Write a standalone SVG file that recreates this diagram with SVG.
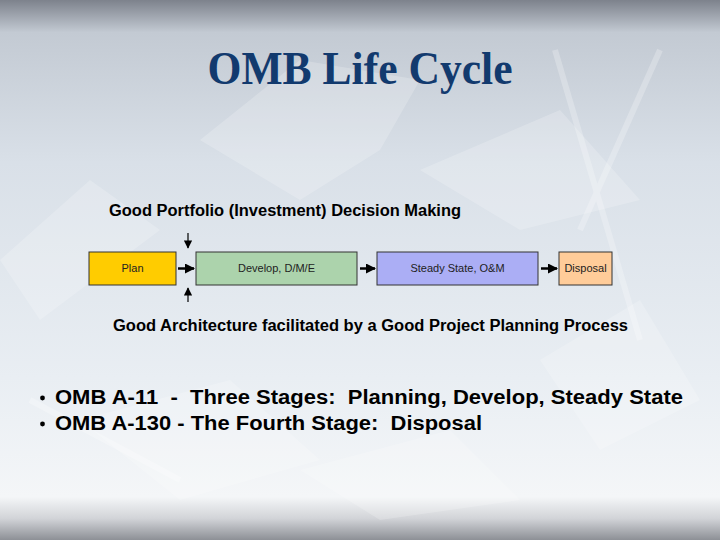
<svg xmlns="http://www.w3.org/2000/svg" width="720" height="540" viewBox="0 0 720 540">
  <defs>
    <linearGradient id="bg" x1="0" y1="0" x2="0" y2="1">
      <stop offset="0" stop-color="#7d828c"/>
      <stop offset="0.06" stop-color="#c3cad3"/>
      <stop offset="0.3" stop-color="#d9e0e8"/>
      <stop offset="0.7" stop-color="#e9eef3"/>
      <stop offset="0.92" stop-color="#f4f6f8"/>
      <stop offset="0.96" stop-color="#d2d4d8"/>
      <stop offset="1" stop-color="#8d9096"/>
    </linearGradient>
    <marker id="ah" viewBox="0 0 10 10" refX="9" refY="5" markerWidth="4" markerHeight="4" orient="auto" markerUnits="strokeWidth">
      <path d="M0,0 L10,5 L0,10 z" fill="#000"/>
    </marker>
    <marker id="ahs" viewBox="0 0 10 10" refX="9" refY="5" markerWidth="7" markerHeight="7" orient="auto" markerUnits="strokeWidth">
      <path d="M0,0 L10,5 L0,10 z" fill="#000"/>
    </marker>
  </defs>
  <style>
    .title { font-family: "Liberation Serif", "Times New Roman", serif; font-weight: bold; font-size: 47px; fill: #123a6e; }
    .head { font-family: "Liberation Sans", Arial, sans-serif; font-weight: bold; font-size: 16px; fill: #000; }
    .lbl { font-family: "Liberation Sans", Arial, sans-serif; font-size: 11px; fill: #222; }
    .bul { font-family: "Liberation Sans", Arial, sans-serif; font-weight: bold; font-size: 20px; fill: #000; white-space: pre; }
    .box { stroke: #333; stroke-width: 1; }
    .conn { stroke: #000; fill: none; }
  </style>

  <rect x="0" y="0" width="720" height="540" fill="url(#bg)"/>
  <g fill="#ffffff" opacity="0.2">
    <polygon points="200,140 300,60 420,80 380,150 300,200"/>
    <polygon points="0,260 90,180 160,230 40,320"/>
    <polygon points="420,170 560,110 640,200 520,230"/>
    <polygon points="540,360 640,300 700,400 600,450"/>
    <polygon points="80,420 230,380 320,460 180,500"/>
    <polygon points="300,470 450,430 520,500 380,520"/>
  </g>
  <g stroke="#ffffff" stroke-width="6" opacity="0.25" fill="none">
    <line x1="555" y1="50" x2="640" y2="340"/>
    <line x1="660" y1="50" x2="580" y2="230"/>
    <line x1="30" y1="400" x2="180" y2="480"/>
  </g>

  <g id="title">
    <text class="title" x="360" y="84" text-anchor="middle" textLength="305" lengthAdjust="spacingAndGlyphs">OMB Life Cycle</text>
  </g>

  <g id="top-label">
    <text class="head" x="109" y="216" textLength="352" lengthAdjust="spacingAndGlyphs">Good Portfolio (Investment) Decision Making</text>
  </g>

  <g id="plan">
    <rect class="box" x="89" y="252" width="87" height="33" fill="#ffcc00"/>
    <text class="lbl" x="132.5" y="272" text-anchor="middle">Plan</text>
  </g>
  <g id="develop">
    <rect class="box" x="196" y="252" width="161" height="33" fill="#acd3ac"/>
    <text class="lbl" x="276.5" y="272" text-anchor="middle">Develop, D/M/E</text>
  </g>
  <g id="steady">
    <rect class="box" x="377" y="252" width="161" height="33" fill="#abaef5"/>
    <text class="lbl" x="457.5" y="272" text-anchor="middle">Steady State, O&amp;M</text>
  </g>
  <g id="disposal">
    <rect class="box" x="559" y="252" width="53" height="33" fill="#ffcc99"/>
    <text class="lbl" x="585.5" y="272" text-anchor="middle">Disposal</text>
  </g>

  <g id="connectors">
    <line class="conn" x1="178" y1="268.5" x2="194" y2="268.5" stroke-width="2.5" marker-end="url(#ah)"/>
    <line class="conn" x1="360" y1="268.5" x2="375" y2="268.5" stroke-width="2.5" marker-end="url(#ah)"/>
    <line class="conn" x1="541" y1="268.5" x2="557" y2="268.5" stroke-width="2.5" marker-end="url(#ah)"/>
    <line class="conn" x1="188" y1="233" x2="188" y2="248" stroke-width="1.2" marker-end="url(#ahs)"/>
    <line class="conn" x1="188" y1="302" x2="188" y2="288" stroke-width="1.2" marker-end="url(#ahs)"/>
  </g>

  <g id="bottom-label">
    <text class="head" x="113" y="331" textLength="515" lengthAdjust="spacingAndGlyphs">Good Architecture facilitated by a Good Project Planning Process</text>
  </g>

  <g id="bullets">
    <circle cx="42.5" cy="398" r="2.4" fill="#000"/>
    <text class="bul" x="55" y="404" textLength="628" lengthAdjust="spacingAndGlyphs">OMB A-11  -  Three Stages:  Planning, Develop, Steady State</text>
    <circle cx="42.5" cy="424" r="2.4" fill="#000"/>
    <text class="bul" x="55" y="430" textLength="427" lengthAdjust="spacingAndGlyphs">OMB A-130 - The Fourth Stage:  Disposal</text>
  </g>
</svg>
